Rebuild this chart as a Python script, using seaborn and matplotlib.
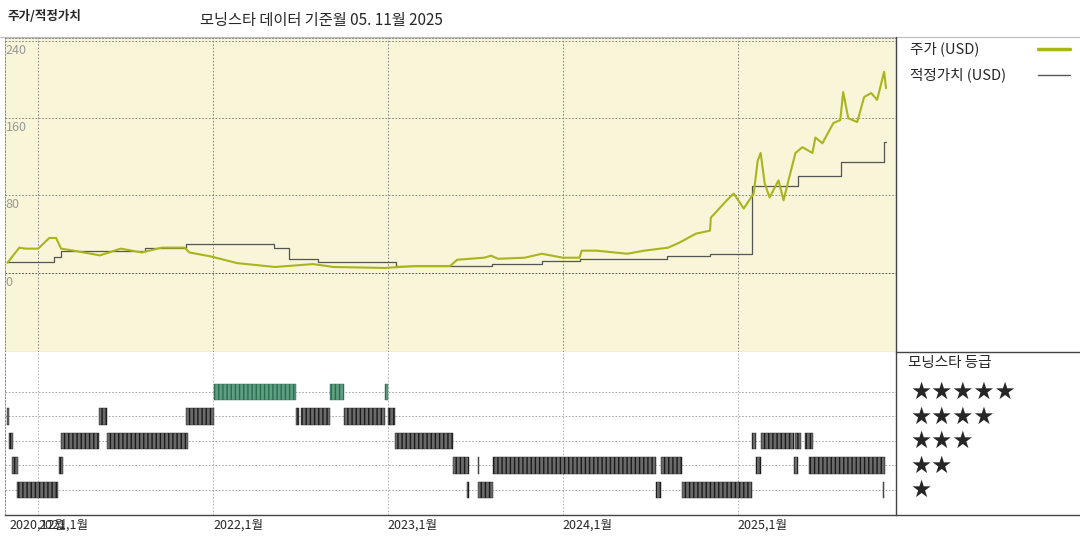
import numpy as np
import pandas as pd
import matplotlib.pyplot as plt
import seaborn as sns
from matplotlib.lines import Line2D

sns.set_style('white')
plt.rcParams['font.family'] = ['Noto Sans CJK KR', 'DejaVu Sans']

# Price (USD), x as fractional year
price_t = [2020.824, 2020.892, 2020.926, 2021.0, 2021.063, 2021.102, 2021.131, 2021.199, 2021.353,
           2021.472, 2021.592, 2021.706, 2021.837, 2021.865, 2021.985, 2022.138, 2022.355, 2022.571,
           2022.690, 2022.981, 2023.157, 2023.356, 2023.396, 2023.550, 2023.590, 2023.630, 2023.783,
           2023.880, 2024.000, 2024.096, 2024.108, 2024.193, 2024.369, 2024.466, 2024.603, 2024.665,
           2024.762, 2024.842, 2024.847, 2024.938, 2024.978, 2025.035, 2025.092, 2025.115, 2025.132,
           2025.155, 2025.183, 2025.234, 2025.263, 2025.291, 2025.331, 2025.371, 2025.428, 2025.445,
           2025.485, 2025.548, 2025.587, 2025.604, 2025.633, 2025.684, 2025.724, 2025.764, 2025.798,
           2025.838, 2025.849]
price_v = [10.4, 26, 25, 25, 36, 36, 25, 23, 18, 25, 21, 26, 26, 21, 17, 10, 6, 9, 6, 5, 7, 7, 13.5,
           15.6, 17.7, 14.5, 15.6, 19.7, 15.6, 15.6, 22.9, 22.9, 19.7, 22.9, 26, 31, 40.5, 43.6, 57, 75,
           82, 66.5, 82, 116, 124, 92.5, 78, 95.6, 75, 95.6, 124, 130, 124, 140, 134, 155, 158, 187,
           160, 156, 182, 186, 179, 208, 191]

# Fair value (USD), step changes
fair_t = [2020.824, 2021.091, 2021.131, 2021.609, 2021.848, 2022.349, 2022.434, 2022.599, 2023.049,
          2023.595, 2023.880, 2024.096, 2024.597, 2024.842, 2025.081, 2025.343, 2025.593, 2025.838,
          2025.849]
fair_v = [11.4, 16.6, 22.9, 26, 30, 26, 14.5, 11.4, 7.3, 9.4, 12.5, 14.5, 17.7, 19.7, 90, 100, 115,
          135, 135]

# Morningstar rating periods
rating_start = [2020.824, 2021.347, 2021.848, 2022.474, 2022.503, 2022.747, 2023.003,
                2022.007, 2022.668, 2022.981,
                2020.835, 2021.131, 2021.393, 2023.043, 2025.081, 2025.132, 2025.331, 2025.388,
                2020.852, 2021.120, 2023.373, 2023.521, 2023.601, 2024.563, 2025.104, 2025.320,
                2025.411,
                2020.880, 2023.453, 2023.516, 2024.534, 2024.682, 2025.832]
rating_end = [2020.835, 2021.393, 2022.007, 2022.491, 2022.668, 2022.981, 2023.043,
              2022.474, 2022.747, 2022.998,
              2020.858, 2021.347, 2021.854, 2023.373, 2025.104, 2025.320, 2025.360, 2025.434,
              2020.886, 2021.142, 2023.464, 2023.516, 2024.534, 2024.682, 2025.132, 2025.343,
              2025.843,
              2021.114, 2023.464, 2023.601, 2024.563, 2025.081, 2025.838]
rating_level = [4] * 7 + [5] * 3 + [3] * 8 + [2] * 9 + [1] * 6

year_ticks = [2021, 2022, 2023, 2024, 2025]
year_labels = ['2021,1월', '2022,1월', '2023,1월', '2024,1월', '2025,1월']
price_ticks = [0, 80, 160, 240]

price_df = pd.DataFrame({'t': price_t, 'v': price_v})
fair_df = pd.DataFrame({'t': fair_t, 'v': fair_v})

fig = plt.figure(figsize=(10.8, 5.4), dpi=100)
W, H = 1080, 540
x0, x1 = 5 / W, 896 / W
ax = fig.add_axes([x0, 188 / H, x1 - x0, 314 / H])
axr = fig.add_axes([x0, 25 / H, x1 - x0, 163 / H])
xlim = (2020.81, 2025.906)

# Top: price / fair value
ax.set_facecolor('#f9f5d8')
sns.lineplot(data=fair_df, x='t', y='v', ax=ax, color='#555555', lw=0.9, drawstyle='steps-post')
sns.lineplot(data=price_df, x='t', y='v', ax=ax, color='#a9b51c', lw=1.5)
ax.set_xlim(*xlim)
ax.set_ylim(-82, 243)
for v in price_ticks:
    ax.axhline(v, color='#333' if v == 0 else '#777', ls=(0, (2, 2)), lw=0.6, zorder=0)
    ax.text(xlim[0] + 0.005, v - 3, str(v), color='#999', fontsize=9, va='top', ha='left')
for t in year_ticks:
    ax.axvline(t, color='#777', ls=(0, (2, 2)), lw=0.6, zorder=0)
ax.set_xticks([]); ax.set_yticks([])
ax.set_xlabel(''); ax.set_ylabel('')
for s in ['top', 'left']:
    ax.spines[s].set_linestyle((0, (2, 2)))
    ax.spines[s].set_color('#777')
    ax.spines[s].set_linewidth(0.6)
ax.spines['right'].set_visible(False)
ax.spines['bottom'].set_color('#8a8450')
ax.spines['bottom'].set_linewidth(0.8)

# Bottom: rating bars
axr.set_xlim(*xlim)
axr.set_ylim(-0.02, 6.63)
for lv in range(1, 6):
    axr.axhline(lv, color='#999', ls=(0, (2, 2)), lw=0.6, zorder=0)
for t in year_ticks:
    axr.axvline(t, color='#aaa', ls=(0, (2, 2)), lw=0.6, zorder=0)
for s, e, lv in zip(rating_start, rating_end, rating_level):
    if lv == 5:
        fc, ec = '#5f9e82', '#2a6e50'
    else:
        fc, ec = '#6a6a6a', '#1a1a1a'
    axr.broken_barh([(s, e - s)], (lv - 0.33, 0.66), facecolor=fc, edgecolor=ec,
                    hatch='||||', lw=0.3, zorder=2)
axr.set_xticks([]); axr.set_yticks([])
axr.spines['top'].set_visible(False)
axr.spines['right'].set_visible(False)
axr.spines['left'].set_linestyle((0, (2, 2)))
axr.spines['left'].set_color('#777')
axr.spines['left'].set_linewidth(0.6)
axr.spines['bottom'].set_color('#444')
axr.spines['bottom'].set_linewidth(1.0)
axr.text(2020.835, -0.15, '2020,12월', fontsize=9, va='top', ha='left')
for t, lab in zip(year_ticks, year_labels):
    axr.text(t, -0.15, lab, fontsize=9, va='top', ha='left')

# Frame lines of the right panel
def fline(xa, ya, xb, yb, **kw):
    fig.add_artist(Line2D([xa / W, xb / W], [1 - ya / H, 1 - yb / H], transform=fig.transFigure, **kw))

fline(0, 37, W, 37, color='#bbb', lw=0.8)
fline(896, 37, 896, 515, color='#444', lw=1.0)
fline(896, 352, W, 352, color='#444', lw=1.0)
fline(896, 515, W, 515, color='#444', lw=1.0)

# Titles
fig.text(7 / W, 1 - 17 / H, '주가/적정가치', fontsize=9, fontweight='bold', va='center')
fig.text(200 / W, 1 - 21 / H, '모닝스타 데이터 기준월 05. 11월 2025', fontsize=11, va='center')

# Legend
fig.text(910 / W, 1 - 49 / H, '주가 (USD)', fontsize=10.5, va='center')
fline(1038, 49, 1070, 49, color='#a9b51c', lw=2.5)
fig.text(910 / W, 1 - 75 / H, '적정가치 (USD)', fontsize=10.5, va='center')
fline(1038, 75, 1070, 75, color='#555', lw=1.0)
fig.text(908 / W, 1 - 363 / H, '모닝스타 등급', fontsize=10.5, va='center')
for lv, yy in zip([5, 4, 3, 2, 1], [392, 417, 441, 466, 490]):
    fig.text(910 / W, 1 - yy / H, '★' * lv, fontsize=17, va='center', family=['DejaVu Sans'])

fig.savefig('out.png', dpi=100)
